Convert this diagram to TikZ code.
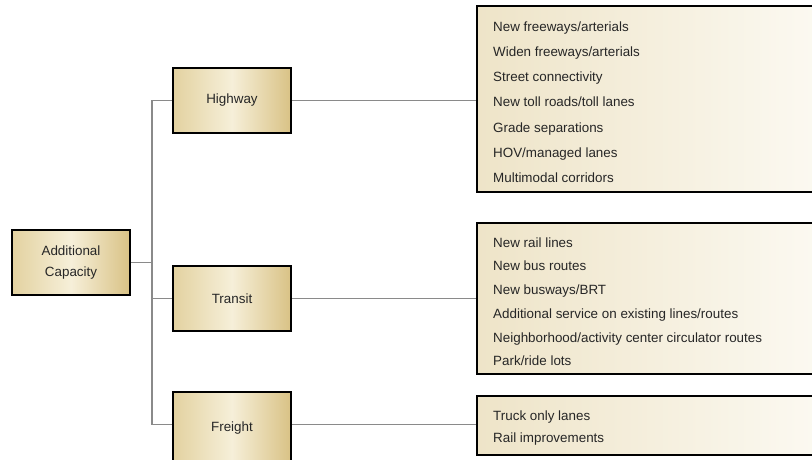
\documentclass[tikz,border=0pt]{standalone}
\usepackage{fontspec}
\setmainfont{Liberation Sans}
\definecolor{tanL}{HTML}{F6EFD9}
\definecolor{tanE}{HTML}{E3D2A0}
\definecolor{tanR}{HTML}{D9C285}
\definecolor{listL}{HTML}{EEE4C8}
\definecolor{listR}{HTML}{FCFAF3}
\definecolor{conn}{HTML}{8A8A8A}
\begin{document}
\begin{tikzpicture}[x=1pt,y=-1pt,
  catbox/.style={draw=black,line width=2.6pt,minimum width=118pt,minimum height=65pt,
    left color=tanE,right color=tanR,middle color=tanL,inner sep=0pt,align=center,
    text=black!85,font=\fontsize{13.4}{21}\selectfont},
  listbox/.style={draw=black,line width=2.2pt,left color=listL,right color=listR,inner sep=0pt},
  item/.style={anchor=base west,inner sep=0pt,text=black!85,font=\fontsize{13.4}{16}\selectfont},
  link/.style={draw=conn,line width=1.4pt}]
\useasboundingbox (0,0) rectangle (812,459);
\clip (0,0) rectangle (812,459);
% list boxes (extend past the right edge)
\node[listbox,minimum width=355pt,minimum height=186pt] (hl) at (654.5,99) {};
\node[listbox,minimum width=355pt,minimum height=151pt] (tl) at (654.5,298.5) {};
\node[listbox,minimum width=355pt,minimum height=59pt] (fl) at (654.5,425.5) {};
% category boxes
\node[catbox] (add) at (71,262.5) {Additional\\Capacity};
\node[catbox] (hw) at (232,100.5) {Highway};
\node[catbox] (tr) at (232,298.5) {Transit};
\node[catbox,minimum height=72pt] (fr) at (232,428) {\raisebox{3pt}{Freight}};
% connectors
\coordinate (j) at (152,262.5);
\coordinate (fj) at (152,424.5);
\draw[link] (add.east) -- (j);
\draw[link] (hw.west) -| (j);
\draw[link] (fr.west |- fj) -- (fj) -- (j);
\draw[link] (tr.west) -- (tr.west -| j);
\draw[link] (hw.east) -- (hw.east -| hl.west);
\draw[link] (tr.east) -- (tr.east -| tl.west);
\draw[link] (fr.east |- fj) -- (fj -| fl.west);
% list texts
\foreach \t [count=\i] in {New freeways/arterials,Widen freeways/arterials,Street connectivity,New toll roads/toll lanes,Grade separations,HOV/managed lanes,Multimodal corridors}
  \node[item] (h\i) at (493,{31+25.3*(\i-1)}) {\t};
\foreach \t [count=\i] in {New rail lines,New bus routes,New busways/BRT,Additional service on existing lines/routes,Neighborhood/activity center circulator routes,Park/ride lots}
  \node[item] (t\i) at (493,{247+23.75*(\i-1)}) {\t};
\foreach \t [count=\i] in {Truck only lanes,Rail improvements}
  \node[item] (f\i) at (493,{420+22.7*(\i-1)}) {\t};
\end{tikzpicture}
\end{document}
